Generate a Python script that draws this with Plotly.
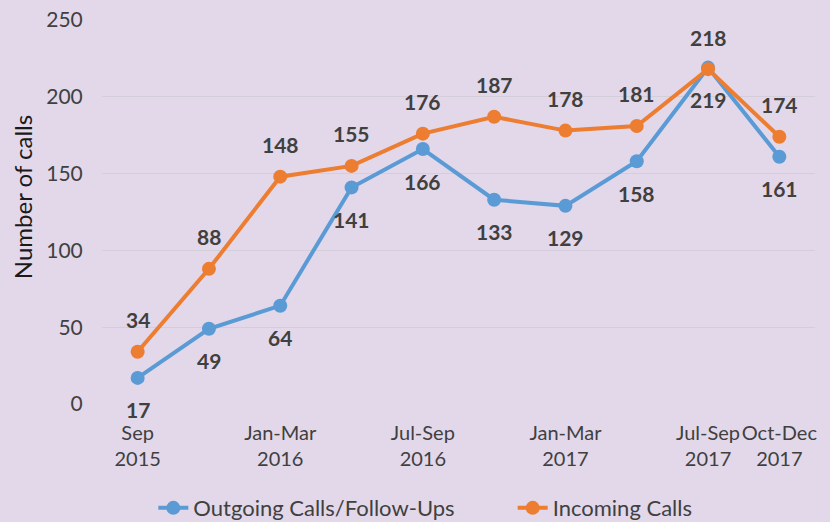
import plotly.graph_objects as go

categories = ["Sep 2015", "Oct-Dec 2015", "Jan-Mar 2016", "Apr-Jun 2016", "Jul-Sep 2016",
              "Oct-Dec 2016", "Jan-Mar 2017", "Apr-Jun 2017", "Jul-Sep 2017", "Oct-Dec 2017"]
outgoing = [17, 49, 64, 141, 166, 133, 129, 158, 219, 161]
incoming = [34, 88, 148, 155, 176, 187, 178, 181, 218, 174]
tick_cats = ["Sep 2015", "Jan-Mar 2016", "Jul-Sep 2016", "Jan-Mar 2017", "Jul-Sep 2017", "Oct-Dec 2017"]
tick_text = ["Sep<br>2015", "Jan-Mar<br>2016", "Jul-Sep<br>2016", "Jan-Mar<br>2017", "Jul-Sep<br>2017", "Oct-Dec<br>2017"]

FONT = "Lato, Open Sans, sans-serif"
BLUE = "#5B9BD5"
ORANGE = "#ED7D31"
TXT = "#404040"

fig = go.Figure()
fig.add_trace(go.Scatter(x=categories, y=outgoing, name="Outgoing Calls/Follow-Ups",
                         mode="lines+markers", line=dict(color=BLUE, width=4),
                         marker=dict(size=14, color=BLUE), legend="legend"))
fig.add_trace(go.Scatter(x=categories, y=incoming, name="Incoming Calls",
                         mode="lines+markers", line=dict(color=ORANGE, width=4),
                         marker=dict(size=14, color=ORANGE), legend="legend2"))

for c, v in zip(categories, outgoing):
    fig.add_annotation(x=c, y=v, text=f"<b>{v}</b>", showarrow=False, yshift=-32,
                       font=dict(family=FONT, size=21, color=TXT))
for c, v in zip(categories, incoming):
    fig.add_annotation(x=c, y=v, text=f"<b>{v}</b>", showarrow=False, yshift=32,
                       font=dict(family=FONT, size=21, color=TXT))

fig.add_annotation(xref="paper", yref="paper", x=-0.112, y=0.539, text="Number of calls",
                   textangle=-90, showarrow=False, xanchor="center", yanchor="middle",
                   font=dict(family=FONT, size=24, color="#1a1a1a"))

leg_common = dict(orientation="h", xanchor="left", y=-0.271, yanchor="middle",
                  font=dict(size=22, color=TXT), bgcolor="rgba(0,0,0,0)")

fig.update_layout(
    width=830, height=522,
    margin=dict(l=102, r=15, t=20, b=118, autoexpand=False),
    paper_bgcolor="#E2D8EA", plot_bgcolor="#E2D8EA",
    font=dict(family=FONT, size=18, color=TXT),
    showlegend=True,
    legend=dict(x=0.072, **leg_common),
    legend2=dict(x=0.576, **leg_common),
    xaxis=dict(type="category", categoryorder="array", categoryarray=categories,
               range=[-0.5, 9.5], tickmode="array", tickvals=tick_cats, ticktext=tick_text,
               tickangle=0,
               showgrid=False, showline=False, zeroline=False,
               ticks="outside", ticklen=11, tickcolor="rgba(0,0,0,0)",
               tickfont=dict(size=20, color=TXT)),
    yaxis=dict(range=[0, 250], tickvals=[0, 50, 100, 150, 200, 250],
               showgrid=True, gridcolor="rgba(210,205,215,0.9)", gridwidth=1,
               zeroline=False, showline=False,
               ticks="outside", ticklen=14, tickcolor="rgba(0,0,0,0)",
               tickfont=dict(size=21, color=TXT)),
)

fig.write_html("out.html", config={"displayModeBar": False},
               post_script="document.body.style.margin='0';")
